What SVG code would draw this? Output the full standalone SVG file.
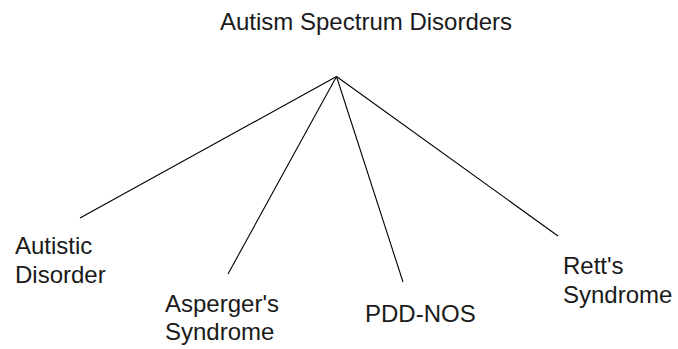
<svg xmlns="http://www.w3.org/2000/svg" width="678" height="349" viewBox="0 0 678 349">
<style>
text{font-family:"Liberation Sans",Arial,sans-serif;font-size:24px;fill:#1a1a1a}
.c line{stroke:#000;stroke-width:1.1}
</style>
<rect width="678" height="349" fill="#fff"/>
<g id="connectors" class="c">
<line x1="336.5" y1="76.5" x2="80" y2="218"/>
<line x1="336.5" y1="76.5" x2="228" y2="274"/>
<line x1="336.5" y1="76.5" x2="403" y2="282"/>
<line x1="336.5" y1="76.5" x2="558" y2="236"/>
</g>
<g id="root"><text x="220" y="30">Autism Spectrum Disorders</text></g>
<g id="autistic"><text x="15" y="254">Autistic</text><text x="15" y="283">Disorder</text></g>
<g id="asperger"><text x="165" y="312">Asperger's</text><text x="165" y="340">Syndrome</text></g>
<g id="pddnos"><text x="365" y="322">PDD-NOS</text></g>
<g id="rett"><text x="563" y="274">Rett's</text><text x="563" y="303">Syndrome</text></g>
</svg>
